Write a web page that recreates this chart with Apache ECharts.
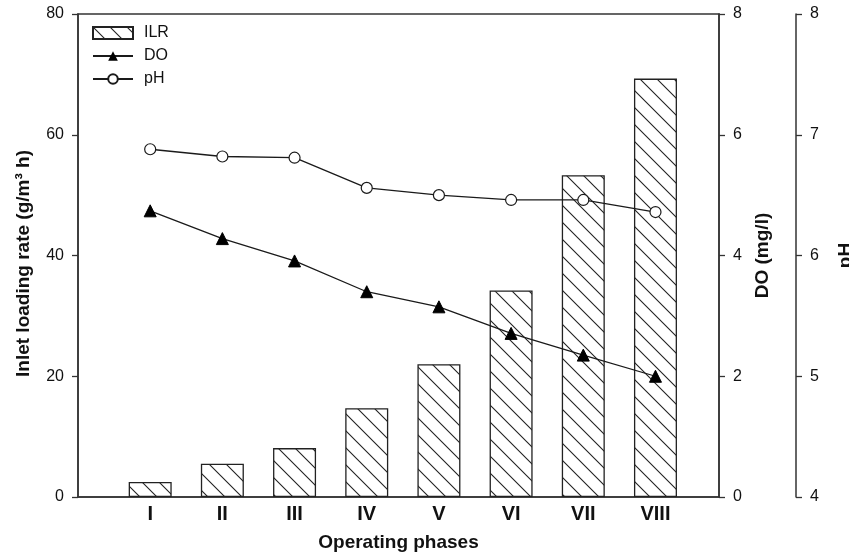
<!DOCTYPE html>
<html>
<head>
<meta charset="utf-8">
<script src="https://cdn.jsdelivr.net/npm/echarts@6/dist/echarts.min.js"></script>
<style>
html,body{margin:0;padding:0;background:#fff;}
#chart{width:849px;height:558px;}
</style>
</head>
<body>
<div id="chart"></div>
<script>
// ---- data ----
const categories = ['I', 'II', 'III', 'IV', 'V', 'VI', 'VII', 'VIII'];
const phaseIndex = [1, 2, 3, 4, 5, 6, 7, 8];
const ilrValues = [2.5, 5.5, 8.1, 14.7, 22.0, 34.2, 53.3, 69.3];
const doValues = [4.74, 4.28, 3.91, 3.40, 3.15, 2.71, 2.35, 2.0];
const phValues = [6.88, 6.82, 6.81, 6.56, 6.50, 6.46, 6.46, 6.36];
const ilrTicks = [0, 20, 40, 60, 80];
const doTicks = [0, 2, 4, 6, 8];
const phTicks = [4, 5, 6, 7, 8];

// hatch pattern
function makeHatch(s) {
  const c = document.createElement('canvas');
  c.width = s; c.height = s;
  const g = c.getContext('2d');
  g.fillStyle = '#fff';
  g.fillRect(0, 0, s, s);
  g.strokeStyle = '#222';
  g.lineWidth = 1.1;
  g.beginPath();
  g.moveTo(-2, -2); g.lineTo(s + 2, s + 2);
  g.moveTo(-2, s - 2); g.lineTo(2, s + 2);
  g.moveTo(s - 2, -2); g.lineTo(s + 2, 2);
  g.stroke();
  return c;
}
const hatch = { image: makeHatch(17), repeat: 'repeat' };

const FONT = '"Liberation Sans", Arial, sans-serif';
const AX = '#333';

const chart = echarts.init(document.getElementById('chart'), null, { renderer: 'canvas' });
const yCommon = (min, max, step) => ({
  type: 'value', min: min, max: max, interval: step,
  axisLine: { show: true, lineStyle: { color: AX, width: 1.5 } },
  axisTick: { show: true, length: 6, lineStyle: { color: AX, width: 1.3 } },
  axisLabel: { fontFamily: FONT, fontSize: 16, color: '#111', margin: 14 },
  splitLine: { show: false },
  nameLocation: 'middle',
  nameRotate: 90,
  nameTextStyle: { fontFamily: FONT, fontSize: 19, fontWeight: 'bold', color: '#111' }
});

const option = {
  animation: false,
  backgroundColor: '#fff',
  textStyle: { fontFamily: FONT },
  grid: {
    left: 78, right: 130, top: 14, bottom: 61,
    outerBoundsMode: 'none', containLabel: false,
    show: true, borderColor: AX, borderWidth: 1.5, backgroundColor: 'transparent'
  },
  legend: {
    orient: 'vertical', left: 92, top: 25, padding: 0,
    itemWidth: 40, itemHeight: 12, itemGap: 7,
    textStyle: { fontFamily: FONT, fontSize: 16, color: '#111', lineHeight: 15, padding: [0, 0, 0, 6] },
    data: [{ name: 'ILR', icon: 'rect' }, 'DO', 'pH']
  },
  xAxis: {
    type: 'value', min: 0, max: 8.88, interval: 1,
    axisLine: { show: true, lineStyle: { color: AX, width: 1.5 } },
    axisTick: { show: false },
    splitLine: { show: false },
    axisLabel: {
      fontFamily: FONT, fontSize: 20, fontWeight: 'bold', color: '#111', margin: 7,
      formatter: function (v) { const i = phaseIndex.indexOf(v); return i >= 0 ? categories[i] : ''; }
    },
    name: 'Operating phases', nameLocation: 'middle', nameGap: 36,
    nameTextStyle: { fontFamily: FONT, fontSize: 19, fontWeight: 'bold', color: '#111' }
  },
  yAxis: [
    Object.assign(yCommon(ilrTicks[0], ilrTicks[ilrTicks.length - 1], ilrTicks[1] - ilrTicks[0]), {
      position: 'left', name: 'Inlet loading rate (g/m³ h)', nameGap: 45,
      nameTextStyle: { fontFamily: FONT, fontSize: 19, fontWeight: 'bold', color: '#111', padding: [0, 16, 0, 0] }
    }),
    Object.assign(yCommon(doTicks[0], doTicks[doTicks.length - 1], doTicks[1] - doTicks[0]), {
      position: 'right', name: 'DO (mg/l)', nameGap: 33
    }),
    Object.assign(yCommon(phTicks[0], phTicks[phTicks.length - 1], phTicks[1] - phTicks[0]), {
      position: 'right', offset: 77, name: 'pH', nameGap: 40
    })
  ],
  series: [
    {
      name: 'ILR', type: 'bar', xAxisIndex: 0, yAxisIndex: 0, barWidth: 43,
      itemStyle: { color: hatch, borderColor: '#222', borderWidth: 1.3 },
      data: phaseIndex.map((x, i) => [x, ilrValues[i]]),
      z: 1
    },
    {
      name: 'DO', type: 'line', yAxisIndex: 1,
      symbol: 'triangle', symbolSize: 12,
      lineStyle: { color: '#1a1a1a', width: 1.3 },
      itemStyle: { color: '#000', borderColor: '#000' },
      data: phaseIndex.map((x, i) => [x, doValues[i]]),
      z: 3
    },
    {
      name: 'pH', type: 'line', yAxisIndex: 2,
      symbol: 'circle', symbolSize: 11,
      lineStyle: { color: '#1a1a1a', width: 1.3 },
      itemStyle: { color: '#fff', borderColor: '#1a1a1a', borderWidth: 1.2 },
      data: phaseIndex.map((x, i) => [x, phValues[i]]),
      z: 3
    }
  ]
};
chart.setOption(option);
</script>
</body>
</html>
